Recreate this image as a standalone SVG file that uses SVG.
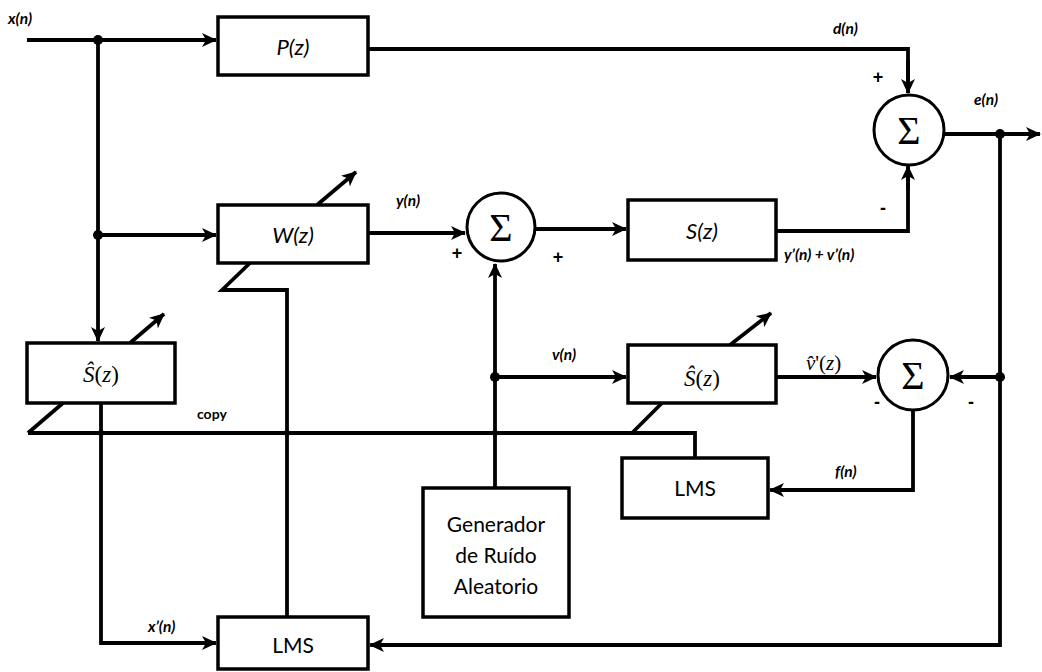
<svg xmlns="http://www.w3.org/2000/svg" width="1042" height="672" viewBox="0 0 1042 672">
<style>
.box{fill:#fff;stroke:#000;stroke-width:3.5}
.sum{fill:#fff;stroke:#000;stroke-width:3}
.ln{fill:none;stroke:#000;stroke-width:3.8;stroke-linejoin:miter}
.arr{marker-end:url(#ah)}
.sig{font-family:"Liberation Serif",serif;font-size:40px;text-anchor:middle}
.lbl{font-family:Lato,"Liberation Sans",sans-serif;font-size:15.5px;font-weight:bold;font-style:italic}
.bt{font-family:Lato,"Liberation Sans",sans-serif;font-size:21px;text-anchor:middle}
.bti{font-family:Lato,"Liberation Sans",sans-serif;font-size:22px;font-style:italic;text-anchor:middle}
.math{font-family:"Liberation Serif",serif;font-size:23px;text-anchor:middle}
.pm{font-family:"Liberation Sans",sans-serif;font-size:18px;font-weight:bold;text-anchor:middle}
</style>
<defs>
<marker id="ah" markerWidth="16" markerHeight="14" refX="14" refY="7" orient="auto" markerUnits="userSpaceOnUse">
<path d="M0,0 L15,7 L0,14 L4,7 z" fill="#000"/>
</marker>
</defs>
<g id="connectors">
<polyline class="ln arr" points="27,40 216,40"/>
<polyline class="ln arr" points="98,40 98,341"/>
<polyline class="ln arr" points="98,235 216,235"/>
<polyline class="ln" points="368,49 908,49 908,93"/>
<path class="ln arr" d="M908,60 L908,93"/>
<polyline class="ln arr" points="368,233 465,233"/>
<polyline class="ln arr" points="535,229 626,229"/>
<polyline class="ln" points="776,231 908,231 908,168"/>
<path class="ln arr" d="M908,190 L908,166"/>
<polyline class="ln arr" points="944,134 1040,134"/>
<polyline class="ln" points="1000,134 1000,645 372,645"/>
<path class="ln arr" d="M400,645 L370,645"/>
<polyline class="ln arr" points="1000,377 950,377"/>
<polyline class="ln arr" points="495,488 495,264"/>
<polyline class="ln arr" points="495,377 626,377"/>
<polyline class="ln arr" points="776,377 876,377"/>
<polyline class="ln" points="913,410 913,490 772,490"/>
<path class="ln arr" d="M800,490 L770,490"/>
<polyline class="ln" points="663,402 632,433"/>
<polyline class="ln" points="28,433 695,433 695,458"/>
<polyline class="ln" points="63,403 28,433"/>
<polyline class="ln" points="250,263 222,290 287,290 287,617"/>
<polyline class="ln" points="101,403 101,643 216,643"/>
<path class="ln arr" d="M190,643 L216,643"/>
<polyline class="ln arr" points="317,205 356,172"/>
<polyline class="ln arr" points="130,343 164,314"/>
<polyline class="ln arr" points="730,345 771,313"/>
<circle cx="98" cy="40" r="5"/>
<circle cx="98" cy="235" r="5"/>
<circle cx="495" cy="377" r="5"/>
<circle cx="1000" cy="134" r="5"/>
<circle cx="1000" cy="377" r="5"/>
<circle cx="101" cy="433" r="3"/>
<circle cx="287" cy="433" r="3"/>
<circle cx="495" cy="433" r="3"/>
</g>
<g id="P"><rect class="box" x="218" y="17" width="150" height="58"/><text class="bti" x="293" y="55">P(z)</text></g>
<g id="W"><rect class="box" x="218" y="205" width="150" height="58"/><text class="bti" x="293" y="243">W(z)</text></g>
<g id="S"><rect class="box" x="628" y="200" width="148" height="60"/><text class="bti" x="702" y="239">S(z)</text></g>
<g id="Shat1"><rect class="box" x="27" y="343" width="148" height="60"/><text class="math" x="101" y="382"><tspan font-style="italic">Ŝ</tspan>(<tspan font-style="italic">z</tspan>)</text></g>
<g id="Shat2"><rect class="box" x="628" y="345" width="148" height="58"/><text class="math" x="702" y="386"><tspan font-style="italic">Ŝ</tspan>(<tspan font-style="italic">z</tspan>)</text></g>
<g id="LMS1"><rect class="box" x="218" y="617" width="150" height="52"/><text class="bt" x="293" y="653">LMS</text></g>
<g id="LMS2"><rect class="box" x="622" y="458" width="146" height="60"/><text class="bt" x="695" y="496">LMS</text></g>
<g id="gen"><rect class="box" x="423" y="488" width="146" height="129"/>
<text class="bt" x="496" y="532">Generador</text>
<text class="bt" x="496" y="563">de Ruído</text>
<text class="bt" x="496" y="594">Aleatorio</text></g>
<g id="sum1"><circle class="sum" cx="909" cy="130" r="35"/><text class="sig" x="909" y="144">Σ</text></g>
<g id="sum2"><circle class="sum" cx="501" cy="227" r="34"/><text class="sig" x="501" y="241">Σ</text></g>
<g id="sum3"><circle class="sum" cx="913" cy="375" r="35"/><text class="sig" x="913" y="389">Σ</text></g>
<g id="labels">
<text class="lbl" x="8" y="24">x(n)</text>
<text class="lbl" x="833" y="34">d(n)</text>
<text class="lbl" x="974" y="105">e(n)</text>
<text class="lbl" x="396" y="206">y(n)</text>
<text class="lbl" x="784" y="260">y’(n) + v’(n)</text>
<text class="lbl" x="552" y="360">v(n)</text>
<text class="lbl" x="835" y="477">f(n)</text>
<text class="lbl" x="148" y="632">x’(n)</text>
<text font-family="Lato,'Liberation Sans',sans-serif" font-size="14" font-weight="bold" x="197" y="419">copy</text>
<text font-family="'Liberation Serif',serif" font-size="21" x="806" y="370"><tspan font-style="italic">v̂</tspan>'(<tspan font-style="italic">z</tspan>)</text>
<text class="pm" x="878" y="83">+</text>
<text class="pm" x="883" y="214">-</text>
<text class="pm" x="457" y="259">+</text>
<text class="pm" x="558" y="263">+</text>
<text class="pm" x="877" y="408">-</text>
<text class="pm" x="971" y="408">-</text>
</g>
</svg>
